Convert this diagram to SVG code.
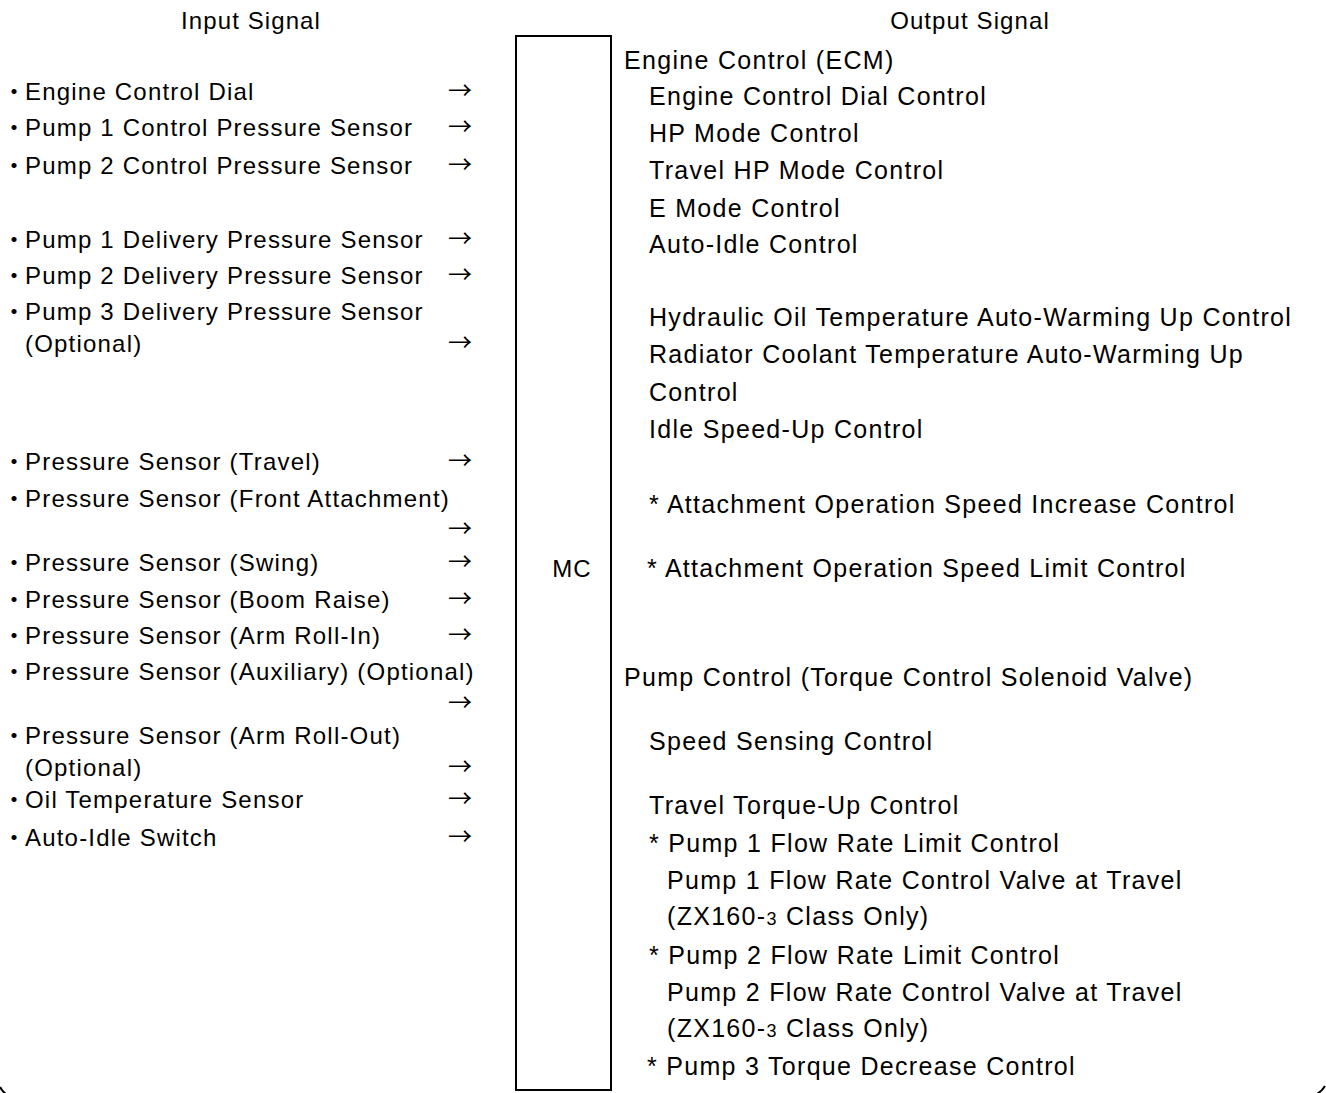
<svg xmlns="http://www.w3.org/2000/svg" width="1326" height="1093" viewBox="0 0 1326 1093">
<style>
text{font-family:"Liberation Sans",Arial,sans-serif;font-size:24px;letter-spacing:1.2px;fill:#000}
.h{letter-spacing:1.1px}
.r{font-size:25px;letter-spacing:1.3px}
.b{font-family:"Noto Sans CJK JP",sans-serif;letter-spacing:0}
.s{font-size:18px}
.ar{font-family:"Noto Sans CJK JP",sans-serif;letter-spacing:0;font-size:24px}
</style>
<rect width="1326" height="1093" fill="#fff"/>
<g id="frame" fill="none" stroke="#000" stroke-width="2">
<path d="M0,1087 Q2,1091 6,1094"/>
<path d="M1325,1086 Q1322,1091 1317,1094"/>
</g>
<g id="headers">
<text class="h" x="251" y="29" text-anchor="middle">Input Signal</text>
<text class="h" x="970" y="29" text-anchor="middle">Output Signal</text>
</g>
<g id="mc">
<rect x="516" y="36" width="95" height="1054" fill="none" stroke="#000" stroke-width="2"/>
<text class="h" x="572" y="577" text-anchor="middle">MC</text>
</g>
<g id="inputs">
<text x="2" y="100"><tspan class="b">・</tspan><tspan x="25">Engine Control Dial</tspan></text>
<text x="2" y="136"><tspan class="b">・</tspan><tspan x="25">Pump 1 Control Pressure Sensor</tspan></text>
<text x="2" y="174"><tspan class="b">・</tspan><tspan x="25">Pump 2 Control Pressure Sensor</tspan></text>
<text x="2" y="248"><tspan class="b">・</tspan><tspan x="25">Pump 1 Delivery Pressure Sensor</tspan></text>
<text x="2" y="284"><tspan class="b">・</tspan><tspan x="25">Pump 2 Delivery Pressure Sensor</tspan></text>
<text x="2" y="320"><tspan class="b">・</tspan><tspan x="25">Pump 3 Delivery Pressure Sensor</tspan></text>
<text x="25" y="352">(Optional)</text>
<text x="2" y="470"><tspan class="b">・</tspan><tspan x="25">Pressure Sensor (Travel)</tspan></text>
<text x="2" y="507"><tspan class="b">・</tspan><tspan x="25">Pressure Sensor (Front Attachment)</tspan></text>
<text x="2" y="571"><tspan class="b">・</tspan><tspan x="25">Pressure Sensor (Swing)</tspan></text>
<text x="2" y="608"><tspan class="b">・</tspan><tspan x="25">Pressure Sensor (Boom Raise)</tspan></text>
<text x="2" y="644"><tspan class="b">・</tspan><tspan x="25">Pressure Sensor (Arm Roll-In)</tspan></text>
<text x="2" y="680"><tspan class="b">・</tspan><tspan x="25">Pressure Sensor (Auxiliary) (Optional)</tspan></text>
<text x="2" y="744"><tspan class="b">・</tspan><tspan x="25">Pressure Sensor (Arm Roll-Out)</tspan></text>
<text x="25" y="776">(Optional)</text>
<text x="2" y="808"><tspan class="b">・</tspan><tspan x="25">Oil Temperature Sensor</tspan></text>
<text x="2" y="846"><tspan class="b">・</tspan><tspan x="25">Auto-Idle Switch</tspan></text>
</g>
<g id="connectors">
<text class="ar" x="448" y="99">→</text>
<text class="ar" x="448" y="135">→</text>
<text class="ar" x="448" y="173">→</text>
<text class="ar" x="448" y="247">→</text>
<text class="ar" x="448" y="283">→</text>
<text class="ar" x="448" y="351">→</text>
<text class="ar" x="448" y="469">→</text>
<text class="ar" x="448" y="537">→</text>
<text class="ar" x="448" y="570">→</text>
<text class="ar" x="448" y="607">→</text>
<text class="ar" x="448" y="643">→</text>
<text class="ar" x="448" y="711">→</text>
<text class="ar" x="448" y="775">→</text>
<text class="ar" x="448" y="807">→</text>
<text class="ar" x="448" y="845">→</text>
</g>
<g id="outputs">
<text class="r" x="624" y="69">Engine Control (ECM)</text>
<text class="r" x="649" y="105">Engine Control Dial Control</text>
<text class="r" x="649" y="142">HP Mode Control</text>
<text class="r" x="649" y="179">Travel HP Mode Control</text>
<text class="r" x="649" y="217">E Mode Control</text>
<text class="r" x="649" y="253">Auto-Idle Control</text>
<text class="r" x="649" y="326">Hydraulic Oil Temperature Auto-Warming Up Control</text>
<text class="r" x="649" y="363">Radiator Coolant Temperature Auto-Warming Up</text>
<text class="r" x="649" y="401">Control</text>
<text class="r" x="649" y="438">Idle Speed-Up Control</text>
<text class="r" x="649" y="513">* Attachment Operation Speed Increase Control</text>
<text class="r" x="647" y="577">* Attachment Operation Speed Limit Control</text>
<text class="r" x="624" y="686">Pump Control (Torque Control Solenoid Valve)</text>
<text class="r" x="649" y="750">Speed Sensing Control</text>
<text class="r" x="649" y="814">Travel Torque-Up Control</text>
<text class="r" x="649" y="852">* Pump 1 Flow Rate Limit Control</text>
<text class="r" x="667" y="889">Pump 1 Flow Rate Control Valve at Travel</text>
<text class="r" x="667" y="925">(ZX160-<tspan class="s">3</tspan> Class Only)</text>
<text class="r" x="649" y="964">* Pump 2 Flow Rate Limit Control</text>
<text class="r" x="667" y="1001">Pump 2 Flow Rate Control Valve at Travel</text>
<text class="r" x="667" y="1037">(ZX160-<tspan class="s">3</tspan> Class Only)</text>
<text class="r" x="647" y="1075">* Pump 3 Torque Decrease Control</text>
</g>
</svg>
